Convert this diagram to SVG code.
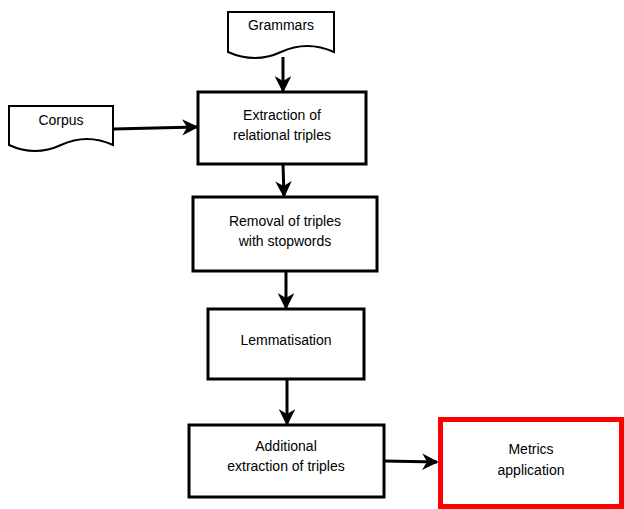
<svg xmlns="http://www.w3.org/2000/svg" width="624" height="509" viewBox="0 0 624 509">
<style>
.box{fill:#fff;stroke:#000;stroke-width:3}
.doc{fill:#fff;stroke:#000;stroke-width:2}
.red{fill:#fff;stroke:#ff0000;stroke-width:5}
.t{font-family:"Liberation Sans",Arial,sans-serif;font-size:14px;fill:#000;text-anchor:middle}
.c{stroke:#000;stroke-width:3;fill:none}
</style>
<defs>
<marker id="ah" viewBox="0 0 10 10" refX="9" refY="5" markerWidth="5.5" markerHeight="5.5" markerUnits="strokeWidth" orient="auto">
<path d="M0,0 L10,5 L0,10 L3,5 Z" fill="#000"/>
</marker>
</defs>
<g id="connectors">
<line class="c" x1="283" y1="57" x2="283" y2="91" marker-end="url(#ah)"/>
<line class="c" x1="113" y1="129" x2="197" y2="127" marker-end="url(#ah)"/>
<line class="c" x1="283" y1="164" x2="284" y2="196" marker-end="url(#ah)"/>
<line class="c" x1="286" y1="271" x2="286" y2="308" marker-end="url(#ah)"/>
<line class="c" x1="287" y1="379" x2="287" y2="424" marker-end="url(#ah)"/>
<line class="c" x1="384" y1="461" x2="437" y2="462" marker-end="url(#ah)"/>
</g>
<g id="grammars">
<path class="doc" d="M228,12 H334 V52 Q307,40 281,52 Q255,64 228,52 Z"/>
<text class="t" x="281" y="30">Grammars</text>
</g>
<g id="corpus">
<path class="doc" d="M9,106 H113 V145 Q87,133 61,145 Q35,157 9,145 Z"/>
<text class="t" x="61" y="125">Corpus</text>
</g>
<g id="extraction">
<rect class="box" x="198" y="92" width="168" height="72"/>
<text class="t" x="282" y="120">Extraction of</text>
<text class="t" x="282" y="140">relational triples</text>
</g>
<g id="removal">
<rect class="box" x="193" y="197" width="184" height="74"/>
<text class="t" x="285" y="226">Removal of triples</text>
<text class="t" x="285" y="246">with stopwords</text>
</g>
<g id="lemmatisation">
<rect class="box" x="208" y="309" width="156" height="70"/>
<text class="t" x="286" y="345">Lemmatisation</text>
</g>
<g id="additional">
<rect class="box" x="189" y="425" width="195" height="72"/>
<text class="t" x="286" y="451">Additional</text>
<text class="t" x="286" y="471">extraction of triples</text>
</g>
<g id="metrics">
<rect class="red" x="440.5" y="419.5" width="181" height="87"/>
<text class="t" x="531" y="454">Metrics</text>
<text class="t" x="531" y="475">application</text>
</g>
</svg>
